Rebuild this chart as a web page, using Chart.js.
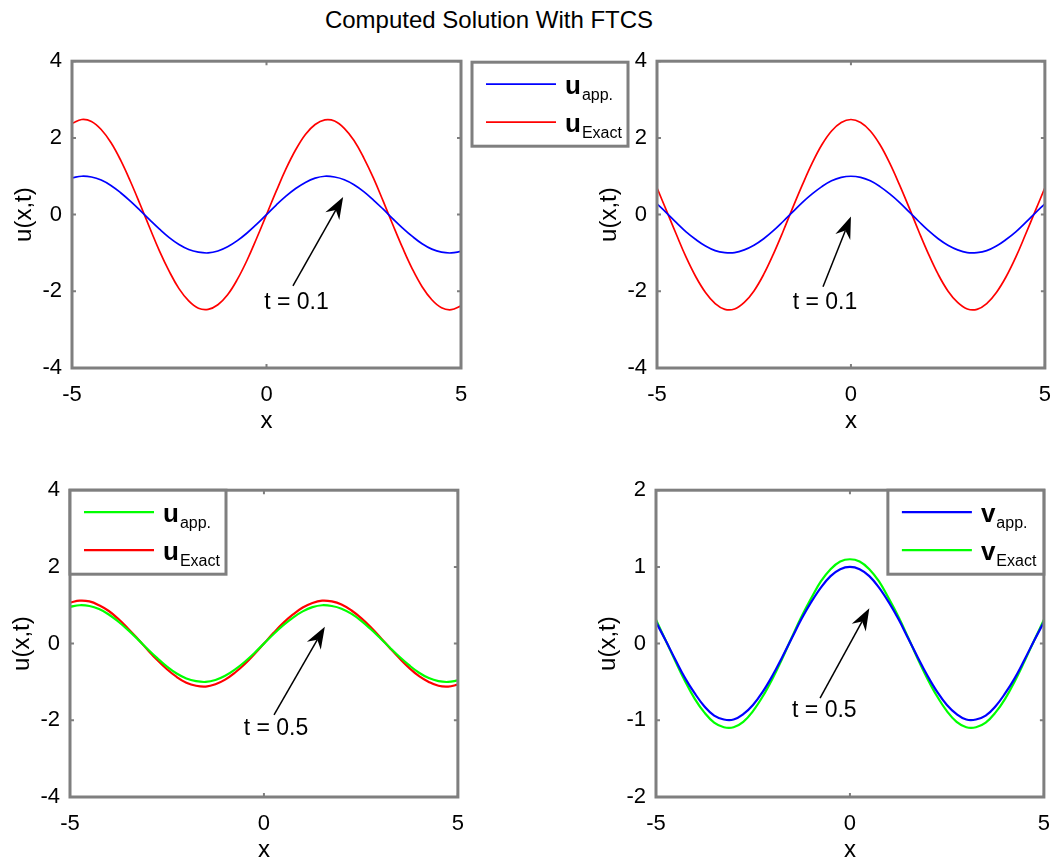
<!DOCTYPE html>
<html>
<head>
<meta charset="utf-8">
<title>Computed Solution With FTCS</title>
<script src="https://cdn.jsdelivr.net/npm/chart.js@4.4.0/dist/chart.umd.min.js"></script>
<style>
  html, body { margin: 0; padding: 0; background: #fff; overflow: hidden; }
  #page { position: relative; width: 1057px; height: 861px; overflow: hidden; }
  #title {
    position: absolute; left: 0; top: 6px; width: 978px;
    text-align: center; color: #000;
    font: 24px "Liberation Sans", Arial, sans-serif;
  }
  canvas { position: absolute; }
</style>
</head>
<body>
<div id="page">
  <div id="title">Computed Solution With FTCS</div>
  <canvas id="tl"></canvas>
  <canvas id="tr"></canvas>
  <canvas id="bl"></canvas>
  <canvas id="br"></canvas>
</div>
<script>
/*--------------------DATA--------------------*/
const xs = [-5, -4.75, -4.5, -4.25, -4, -3.75, -3.5, -3.25, -3, -2.75, -2.5, -2.25, -2, -1.75, -1.5, -1.25, -1, -0.75, -0.5, -0.25,
  0, 0.25, 0.5, 0.75, 1, 1.25, 1.5, 1.75, 2, 2.25, 2.5, 2.75, 3, 3.25, 3.5, 3.75, 4, 4.25, 4.5, 4.75, 5];

// t = 0.1, u
const tlApp = [0.96, 1.00, 0.98, 0.90, 0.76, 0.57, 0.35, 0.11, -0.14, -0.38, -0.60, -0.78, -0.91, -0.98, -1.00, -0.95, -0.84, -0.68, -0.48, -0.25,
  0, 0.25, 0.48, 0.68, 0.84, 0.95, 1.00, 0.98, 0.91, 0.78, 0.60, 0.38, 0.14, -0.11, -0.35, -0.57, -0.76, -0.90, -0.98, -1.00, -0.96];
const tlExact = [2.38, 2.48, 2.43, 2.22, 1.88, 1.42, 0.87, 0.27, -0.35, -0.95, -1.48, -1.93, -2.25, -2.44, -2.47, -2.35, -2.09, -1.69, -1.19, -0.61,
  0, 0.61, 1.19, 1.69, 2.09, 2.35, 2.47, 2.44, 2.25, 1.93, 1.48, 0.95, 0.35, -0.27, -0.87, -1.42, -1.88, -2.22, -2.43, -2.48, -2.38];

// t = 0.1, v
const trApp = [0.28, 0.04, -0.21, -0.45, -0.65, -0.82, -0.94, -0.99, -0.99, -0.92, -0.80, -0.63, -0.42, -0.18, 0.07, 0.32, 0.54, 0.73, 0.88, 0.97,
  1.00, 0.97, 0.88, 0.73, 0.54, 0.32, 0.07, -0.18, -0.42, -0.63, -0.80, -0.92, -0.99, -0.99, -0.94, -0.82, -0.65, -0.45, -0.21, 0.04, 0.28];
const trExact = [0.70, 0.09, -0.52, -1.11, -1.62, -2.03, -2.32, -2.47, -2.46, -2.29, -1.99, -1.56, -1.03, -0.44, 0.18, 0.78, 1.34, 1.82, 2.18, 2.40,
  2.48, 2.40, 2.18, 1.82, 1.34, 0.78, 0.18, -0.44, -1.03, -1.56, -1.99, -2.29, -2.46, -2.47, -2.32, -2.03, -1.62, -1.11, -0.52, 0.09, 0.70];

// t = 0.5, u
const blApp = [0.96, 1.00, 0.98, 0.90, 0.76, 0.57, 0.35, 0.11, -0.14, -0.38, -0.60, -0.78, -0.91, -0.98, -1.00, -0.95, -0.84, -0.68, -0.48, -0.25,
  0, 0.25, 0.48, 0.68, 0.84, 0.95, 1.00, 0.98, 0.91, 0.78, 0.60, 0.38, 0.14, -0.11, -0.35, -0.57, -0.76, -0.90, -0.98, -1.00, -0.96];
const blExact = [1.07, 1.12, 1.10, 1.00, 0.85, 0.64, 0.39, 0.12, -0.16, -0.43, -0.67, -0.87, -1.02, -1.10, -1.12, -1.06, -0.94, -0.76, -0.54, -0.28,
  0, 0.28, 0.54, 0.76, 0.94, 1.06, 1.12, 1.10, 1.02, 0.87, 0.67, 0.43, 0.16, -0.12, -0.39, -0.64, -0.85, -1.00, -1.10, -1.12, -1.07];

// t = 0.5, v
const brApp = [0.28, 0.04, -0.21, -0.45, -0.65, -0.82, -0.94, -0.99, -0.99, -0.92, -0.80, -0.63, -0.42, -0.18, 0.07, 0.32, 0.54, 0.73, 0.88, 0.97,
  1.00, 0.97, 0.88, 0.73, 0.54, 0.32, 0.07, -0.18, -0.42, -0.63, -0.80, -0.92, -0.99, -0.99, -0.94, -0.82, -0.65, -0.45, -0.21, 0.04, 0.28];
const brExact = [0.31, 0.04, -0.23, -0.49, -0.72, -0.90, -1.03, -1.09, -1.09, -1.02, -0.88, -0.69, -0.46, -0.20, 0.08, 0.35, 0.59, 0.81, 0.97, 1.07,
  1.10, 1.07, 0.97, 0.81, 0.59, 0.35, 0.08, -0.20, -0.46, -0.69, -0.88, -1.02, -1.09, -1.09, -1.03, -0.90, -0.72, -0.49, -0.23, 0.04, 0.31];

const xTicks = [-5, 0, 5];
const yTicksWide = [-4, -2, 0, 2, 4];
const yTicksNarrow = [-2, -1, 0, 1, 2];

/*--------------------STYLE--------------------*/
const FONT = '"Liberation Sans", Arial, sans-serif';
const FRAME = '#7f7f7f';
const BLUE = '#0000ff', RED = '#ff0000', GREEN = '#00ff00';

/*--------------------PLUGINS--------------------*/
// grey box around the axes with small inward tick marks
const framePlugin = {
  id: 'frame',
  afterDatasetsDraw(chart) {
    const { ctx, chartArea: a, scales } = chart;
    ctx.save();
    ctx.strokeStyle = FRAME;
    ctx.lineWidth = 2;
    scales.x.ticks.forEach(t => {
      const px = scales.x.getPixelForValue(t.value);
      ctx.beginPath();
      ctx.moveTo(px, a.top); ctx.lineTo(px, a.top + 4);
      ctx.moveTo(px, a.bottom); ctx.lineTo(px, a.bottom - 4);
      ctx.stroke();
    });
    scales.y.ticks.forEach(t => {
      const py = scales.y.getPixelForValue(t.value);
      ctx.beginPath();
      ctx.moveTo(a.left, py); ctx.lineTo(a.left + 4, py);
      ctx.moveTo(a.right, py); ctx.lineTo(a.right - 4, py);
      ctx.stroke();
    });
    ctx.lineWidth = 3;
    ctx.strokeRect(a.left, a.top, a.right - a.left, a.bottom - a.top);
    ctx.restore();
  }
};

// legend with subscripted labels (u_app., u_Exact)
const subLegendPlugin = {
  id: 'subLegend',
  afterDraw(chart, args, opts) {
    if (!opts.place) return;
    const { ctx, chartArea: a } = chart;
    const w = 156, h = 84;
    let left = a.left, top = a.top;
    if (opts.place === 'outside') { left = a.right + 11; top = a.top + 1; }
    if (opts.place === 'topRight') { left = a.right - w; }
    ctx.save();
    ctx.fillStyle = '#fff';
    ctx.fillRect(left, top, w, h);
    ctx.strokeStyle = FRAME;
    ctx.lineWidth = 3;
    ctx.strokeRect(left, top, w, h);
    chart.data.datasets.forEach((ds, i) => {
      const rowY = top + 22 + i * 38;
      ctx.strokeStyle = ds.borderColor;
      ctx.lineWidth = ds.borderWidth;
      ctx.beginPath();
      ctx.moveTo(left + 14, rowY);
      ctx.lineTo(left + 84, rowY);
      ctx.stroke();
      ctx.fillStyle = '#000';
      ctx.textBaseline = 'alphabetic';
      ctx.textAlign = 'left';
      ctx.font = 'bold 26px ' + FONT;
      ctx.fillText(opts.symbol, left + 93, rowY + 10);
      const sw = ctx.measureText(opts.symbol).width;
      ctx.font = '16px ' + FONT;
      ctx.fillText(opts.subs[i], left + 94 + sw, rowY + 16);
    });
    ctx.restore();
  }
};

// "t = ..." note with an arrow, placed in data units
const arrowPlugin = {
  id: 'arrowNote',
  afterDatasetsDraw(chart, args, opts) {
    if (!opts.text) return;
    const { ctx, scales } = chart;
    const x0 = scales.x.getPixelForValue(opts.from[0]), y0 = scales.y.getPixelForValue(opts.from[1]);
    const x1 = scales.x.getPixelForValue(opts.to[0]), y1 = scales.y.getPixelForValue(opts.to[1]);
    const ang = Math.atan2(y1 - y0, x1 - x0);
    const ux = Math.cos(ang), uy = Math.sin(ang);
    const len = 22, half = 8, notch = 15;
    ctx.save();
    ctx.strokeStyle = '#000';
    ctx.fillStyle = '#000';
    ctx.lineWidth = 1.5;
    ctx.beginPath();
    ctx.moveTo(x0, y0);
    ctx.lineTo(x1 - ux * notch, y1 - uy * notch);
    ctx.stroke();
    ctx.beginPath();
    ctx.moveTo(x1, y1);
    ctx.lineTo(x1 - ux * len - uy * half, y1 - uy * len + ux * half);
    ctx.lineTo(x1 - ux * notch, y1 - uy * notch);
    ctx.lineTo(x1 - ux * len + uy * half, y1 - uy * len - ux * half);
    ctx.closePath();
    ctx.fill();
    ctx.font = '23px ' + FONT;
    ctx.textAlign = 'center';
    ctx.textBaseline = 'middle';
    ctx.fillText(opts.text, scales.x.getPixelForValue(opts.at[0]), scales.y.getPixelForValue(opts.at[1]));
    ctx.restore();
  }
};

/*--------------------PANELS--------------------*/
const panels = [
  { id: 'tl', box: [72, 61, 461, 368], padRight: 185, yTicks: yTicksWide, app: tlApp, exact: tlExact,
    colors: [BLUE, RED], lw: 1.7, symbol: 'u', place: 'outside',
    note: { text: 't = 0.1', from: [0.68, -1.86], to: [1.97, 0.46], at: [0.77, -2.29] } },
  { id: 'tr', box: [657, 61, 1045, 368], padRight: 15, yTicks: yTicksWide, app: trApp, exact: trExact,
    colors: [BLUE, RED], lw: 1.7, symbol: 'u', place: null,
    note: { text: 't = 0.1', from: [-0.72, -1.88], to: [0.0, -0.05], at: [-0.67, -2.29] } },
  { id: 'bl', box: [70, 490, 458, 797], padRight: 15, yTicks: yTicksWide, app: blApp, exact: blExact,
    colors: [GREEN, RED], lw: 2.2, symbol: 'u', place: 'topLeft',
    note: { text: 't = 0.5', from: [0.26, -1.86], to: [1.57, 0.44], at: [0.31, -2.22] } },
  { id: 'br', box: [656, 490, 1044, 797], padRight: 15, yTicks: yTicksNarrow, app: brApp, exact: brExact,
    colors: [BLUE, GREEN], lw: 2.2, symbol: 'v', place: 'topRight',
    note: { text: 't = 0.5', from: [-0.77, -0.71], to: [0.50, 0.46], at: [-0.66, -0.88] } }
];

const PAD_L = 70, PAD_T = 15, PAD_B = 70;

function buildChart(cv, p, width, height) {
  cv.width = width;
  cv.height = height;
  const tickFont = { family: FONT, size: 22 };
  const titleFont = { family: FONT, size: 24 };
  const yMin = p.yTicks[0], yMax = p.yTicks[p.yTicks.length - 1];

  return new Chart(cv, {
    type: 'line',
    data: {
      datasets: [
        { label: p.symbol + ' app.', data: xs.map((x, i) => ({ x: x, y: p.app[i] })), borderColor: p.colors[0], borderWidth: p.lw },
        { label: p.symbol + ' Exact', data: xs.map((x, i) => ({ x: x, y: p.exact[i] })), borderColor: p.colors[1], borderWidth: p.lw }
      ]
    },
    options: {
      responsive: false,
      maintainAspectRatio: false,
      animation: false,
      layout: { padding: { left: 0, top: PAD_T, right: p.padRight, bottom: 0 } },
      elements: { point: { radius: 0 }, line: { tension: 0.4, fill: false } },
      plugins: {
        legend: { display: false },
        tooltip: { enabled: false },
        subLegend: { place: p.place, symbol: p.symbol, subs: ['app.', 'Exact'] },
        arrowNote: p.note
      },
      scales: {
        x: {
          type: 'linear', min: -5, max: 5,
          afterBuildTicks: s => { s.ticks = xTicks.map(v => ({ value: v })); },
          ticks: { font: tickFont, color: '#000', padding: 14, maxRotation: 0 },
          grid: { display: false, drawTicks: false },
          border: { display: false },
          title: { display: true, text: 'x', color: '#000', font: titleFont, padding: { top: 0, bottom: 2 } },
          afterFit: s => { s.height = PAD_B; }
        },
        y: {
          type: 'linear', min: yMin, max: yMax,
          afterBuildTicks: s => { s.ticks = p.yTicks.map(v => ({ value: v })); },
          ticks: { font: tickFont, color: '#000', padding: 10 },
          grid: { display: false, drawTicks: false },
          border: { display: false },
          title: { display: true, text: 'u(x,t)', color: '#000', font: titleFont, padding: { top: 8, bottom: 0 } },
          afterFit: s => { s.width = PAD_L; }
        }
      }
    },
    plugins: [framePlugin, subLegendPlugin, arrowPlugin]
  });
}

function makePanel(p) {
  const cv = document.getElementById(p.id);
  const [l, t, r, b] = p.box;
  let w = (r - l) + PAD_L + p.padRight;
  let h = (b - t) + PAD_T + PAD_B;
  let chart = buildChart(cv, p, w, h);

  // tick labels can eat into the plot area; grow the canvas so the axes box keeps its size
  let ca = chart.chartArea;
  const dw = (r - l) - Math.round(ca.right - ca.left);
  const dh = (b - t) - Math.round(ca.bottom - ca.top);
  if (dw || dh) {
    chart.destroy();
    chart = buildChart(cv, p, w + dw, h + dh);
    ca = chart.chartArea;
  }
  cv.style.left = (l - ca.left) + 'px';
  cv.style.top = (t - ca.top) + 'px';
  return chart;
}

panels.forEach(makePanel);
</script>
</body>
</html>
